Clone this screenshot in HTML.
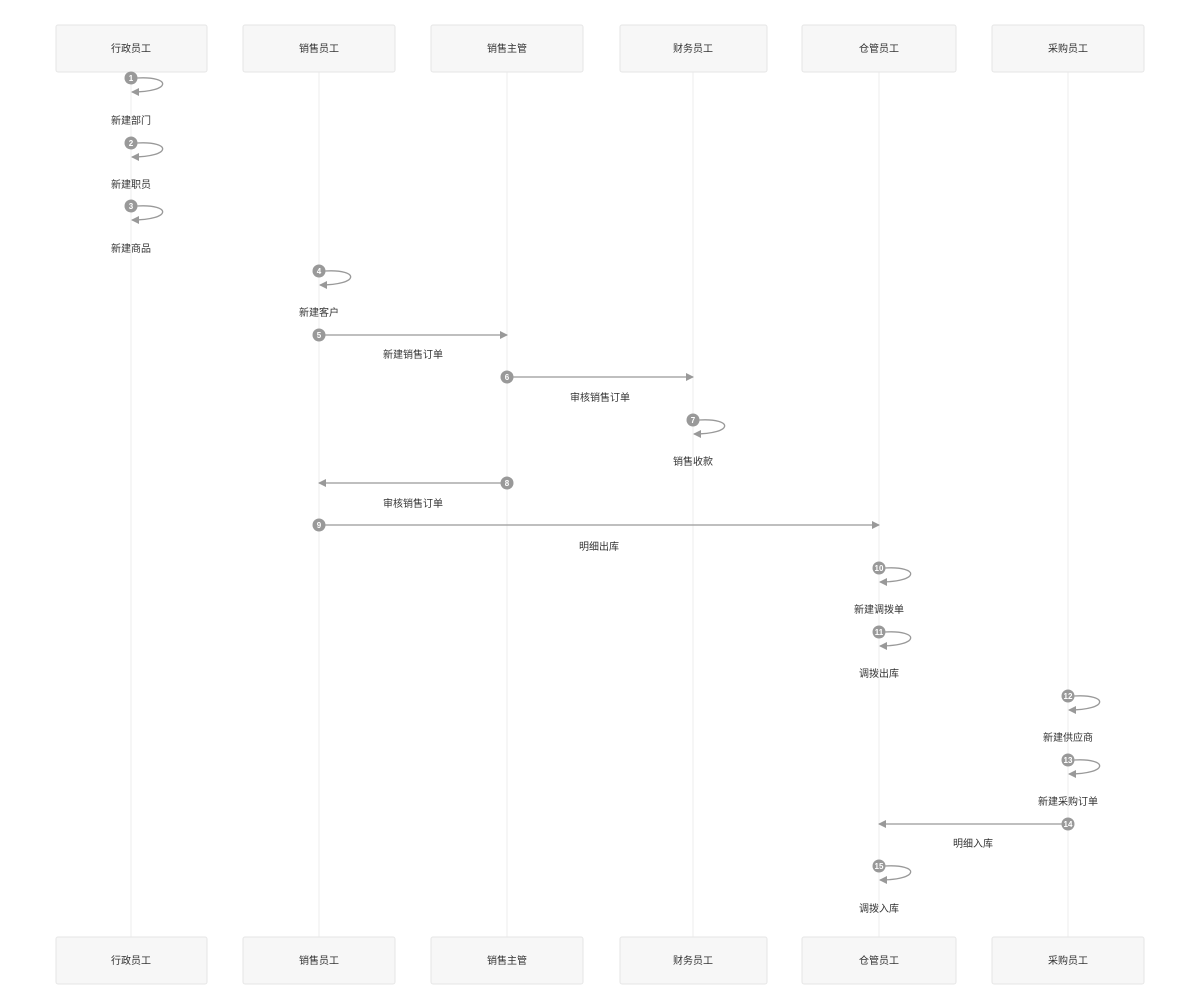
<!DOCTYPE html>
<html><head><meta charset="utf-8"><style>
html,body{margin:0;padding:0;background:#fff;}
svg{display:block;}
text{font-family:"Liberation Sans","Noto Sans CJK SC",sans-serif;}
</style></head><body>
<svg width="1200" height="1002" viewBox="0 0 1200 1002" xmlns="http://www.w3.org/2000/svg">
<defs>
<marker id="ah" markerWidth="8" markerHeight="8" refX="7" refY="4" orient="auto" markerUnits="userSpaceOnUse">
<path d="M0,0 L8,4 L0,8 z" fill="#999"/></marker>
</defs>
<g stroke="#ececec" stroke-width="1">
<line x1="131" y1="72" x2="131" y2="937"/>
<line x1="319" y1="72" x2="319" y2="937"/>
<line x1="507" y1="72" x2="507" y2="937"/>
<line x1="693" y1="72" x2="693" y2="937"/>
<line x1="879" y1="72" x2="879" y2="937"/>
<line x1="1068" y1="72" x2="1068" y2="937"/>
</g>
<g fill="#f7f7f7" stroke="#e6e6e6">
<rect x="56" y="25" width="151" height="47" rx="2"/>
<rect x="243" y="25" width="152" height="47" rx="2"/>
<rect x="431" y="25" width="152" height="47" rx="2"/>
<rect x="620" y="25" width="147" height="47" rx="2"/>
<rect x="802" y="25" width="154" height="47" rx="2"/>
<rect x="992" y="25" width="152" height="47" rx="2"/>
<rect x="56" y="937" width="151" height="47" rx="2"/>
<rect x="243" y="937" width="152" height="47" rx="2"/>
<rect x="431" y="937" width="152" height="47" rx="2"/>
<rect x="620" y="937" width="147" height="47" rx="2"/>
<rect x="802" y="937" width="154" height="47" rx="2"/>
<rect x="992" y="937" width="152" height="47" rx="2"/>
</g>
<g font-size="10" fill="#333" text-anchor="middle">
<text x="131" y="52">行政员工</text><text x="319" y="52">销售员工</text><text x="507" y="52">销售主管</text>
<text x="693" y="52">财务员工</text><text x="879" y="52">仓管员工</text><text x="1068" y="52">采购员工</text>
<text x="131" y="964">行政员工</text><text x="319" y="964">销售员工</text><text x="507" y="964">销售主管</text>
<text x="693" y="964">财务员工</text><text x="879" y="964">仓管员工</text><text x="1068" y="964">采购员工</text>
</g>
<g fill="none" stroke="#999" stroke-width="1.3">
<path d="M137,78 C172,76 172,92 132,92" marker-end="url(#ah)"/>
<path d="M137,143 C172,141 172,157 132,157" marker-end="url(#ah)"/>
<path d="M137,206 C172,204 172,220 132,220" marker-end="url(#ah)"/>
<path d="M325,271 C360,269 360,285 320,285" marker-end="url(#ah)"/>
<path d="M699,420 C734,418 734,434 694,434" marker-end="url(#ah)"/>
<path d="M885,568 C920,566 920,582 880,582" marker-end="url(#ah)"/>
<path d="M885,632 C920,630 920,646 880,646" marker-end="url(#ah)"/>
<path d="M1074,696 C1109,694 1109,710 1069,710" marker-end="url(#ah)"/>
<path d="M1074,760 C1109,758 1109,774 1069,774" marker-end="url(#ah)"/>
<path d="M885,866 C920,864 920,880 880,880" marker-end="url(#ah)"/>
<line x1="325" y1="335" x2="507" y2="335" marker-end="url(#ah)"/>
<line x1="513" y1="377" x2="693" y2="377" marker-end="url(#ah)"/>
<line x1="501" y1="483" x2="319" y2="483" marker-end="url(#ah)"/>
<line x1="325" y1="525" x2="879" y2="525" marker-end="url(#ah)"/>
<line x1="1062" y1="824" x2="879" y2="824" marker-end="url(#ah)"/>
</g>
<g fill="#999">
<circle cx="131" cy="78" r="6.5"/><circle cx="131" cy="143" r="6.5"/><circle cx="131" cy="206" r="6.5"/>
<circle cx="319" cy="271" r="6.5"/><circle cx="319" cy="335" r="6.5"/><circle cx="507" cy="377" r="6.5"/>
<circle cx="693" cy="420" r="6.5"/><circle cx="507" cy="483" r="6.5"/><circle cx="319" cy="525" r="6.5"/>
<circle cx="879" cy="568" r="6.5"/><circle cx="879" cy="632" r="6.5"/><circle cx="1068" cy="696" r="6.5"/>
<circle cx="1068" cy="760" r="6.5"/><circle cx="1068" cy="824" r="6.5"/><circle cx="879" cy="866" r="6.5"/>
</g>
<g font-size="8" fill="#fff" text-anchor="middle" font-weight="bold">
<text x="131" y="81">1</text><text x="131" y="146">2</text><text x="131" y="209">3</text>
<text x="319" y="274">4</text><text x="319" y="338">5</text><text x="507" y="380">6</text>
<text x="693" y="423">7</text><text x="507" y="486">8</text><text x="319" y="528">9</text>
<text x="879" y="571">10</text><text x="879" y="635">11</text><text x="1068" y="699">12</text>
<text x="1068" y="763">13</text><text x="1068" y="827">14</text><text x="879" y="869">15</text>
</g>
<g font-size="10" fill="#333" text-anchor="middle">
<text x="131" y="124">新建部门</text>
<text x="131" y="188">新建职员</text>
<text x="131" y="252">新建商品</text>
<text x="319" y="316">新建客户</text>
<text x="413" y="358">新建销售订单</text>
<text x="600" y="401">审核销售订单</text>
<text x="693" y="465">销售收款</text>
<text x="413" y="507">审核销售订单</text>
<text x="599" y="550">明细出库</text>
<text x="879" y="613">新建调拨单</text>
<text x="879" y="677">调拨出库</text>
<text x="1068" y="741">新建供应商</text>
<text x="1068" y="805">新建采购订单</text>
<text x="973" y="847">明细入库</text>
<text x="879" y="912">调拨入库</text>
</g>
</svg>
</body></html>
